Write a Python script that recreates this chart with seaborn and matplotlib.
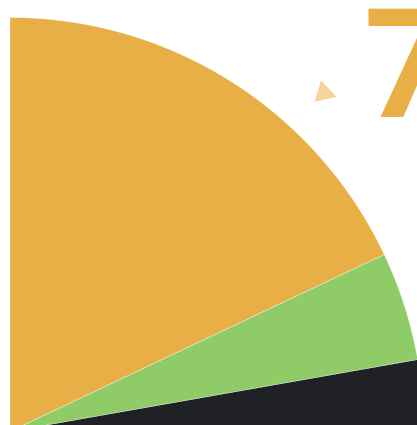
import numpy as np
import matplotlib
matplotlib.use("Agg")
import matplotlib.pyplot as plt
import seaborn as sns

sns.set_theme(style="white")
plt.rcParams['font.family'] = ['Roboto', 'DejaVu Sans']

# Data
segments = ["A", "B", "C", "rest"]
segment_degrees = [64.7, 15.3, 60.0, 220.0]
segment_colors = ["#E8AF46", "#8FCB66", "#202124", "none"]
value_text = "7"

W, H = 417, 425
fig = plt.figure(figsize=(W / 100, H / 100), dpi=100)
ax = fig.add_axes([0, 0, 1, 1])

cx, cy, r = 10, -6.5, 414
wedges, _ = ax.pie(segment_degrees, colors=segment_colors, startangle=90, counterclock=False,
                   center=(cx, cy), radius=r, frame=True,
                   wedgeprops=dict(edgecolor="white", linewidth=0.25))
wedges[-1].set_edgecolor("none")
ax.set_xlim(0, W)
ax.set_ylim(0, H)
ax.axis("off")

# value text
ax.text(364, H - 3, value_text, ha="left", va="top", fontsize=110,
        fontweight="bold", color="#E8AF46")

# pointer triangle
px, py, size, ang = 324, H - 93, 13, 103
theta = np.deg2rad([ang, ang + 120, ang + 240])
ax.fill(px + size * np.cos(theta), py + size * np.sin(theta), color="#F5D49C", lw=0)

fig.savefig("out.png", dpi=100)
